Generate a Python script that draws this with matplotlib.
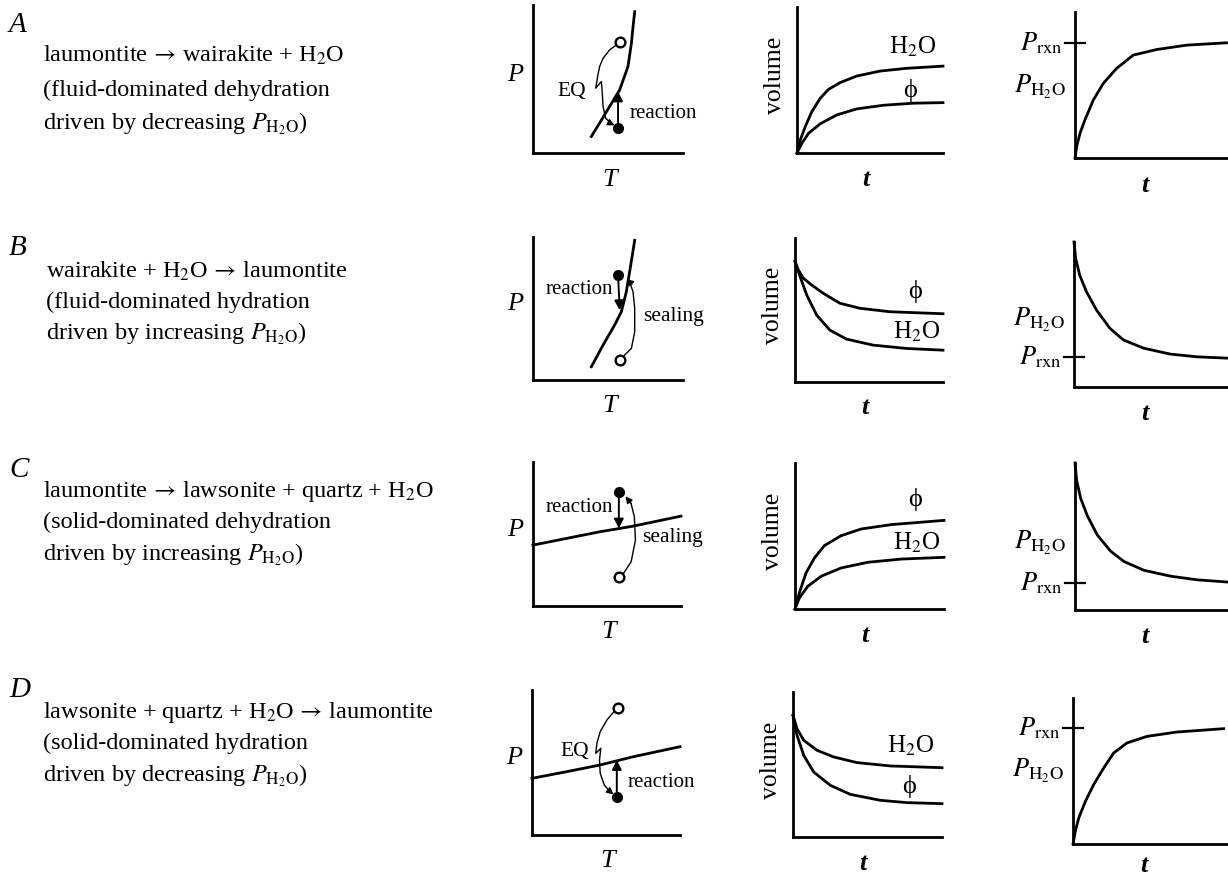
import matplotlib.pyplot as plt

plt.rcParams['font.family'] = ['Liberation Serif', 'DejaVu Serif']
plt.rcParams['mathtext.fontset'] = 'stix'

W, H = 1228, 875  # figure size in pixels

# ---------------- left-hand text ----------------
panel_letters = ['A', 'B', 'C', 'D']
letter_baselines = [32, 255, 477, 697]
text_baselines = [[62, 96, 129], [278, 308, 339], [497, 528, 560], [718, 749, 781]]
text_left = [43, 46, 43, 43]
reaction_lines = [
    [r'laumontite $\!\rightarrow\!$ wairakite + H$_2$O',
     '(fluid-dominated dehydration',
     r'driven by decreasing $P_{\mathrm{H_2O}}$)'],
    [r'wairakite + H$_2$O $\!\rightarrow\!$ laumontite',
     '(fluid-dominated hydration',
     r'driven by increasing $P_{\mathrm{H_2O}}$)'],
    [r'laumontite $\!\rightarrow\!$ lawsonite + quartz + H$_2$O',
     '(solid-dominated dehydration',
     r'driven by increasing $P_{\mathrm{H_2O}}$)'],
    [r'lawsonite + quartz + H$_2$O $\!\rightarrow\!$ laumontite',
     '(solid-dominated hydration',
     r'driven by decreasing $P_{\mathrm{H_2O}}$)'],
]

# ---------------- P-T diagrams (axes fractions) ----------------
pt_boundary = [
    [(0.389, 0.112), (0.444, 0.202), (0.511, 0.315), (0.578, 0.427), (0.633, 0.584),
     (0.656, 0.742), (0.667, 0.854), (0.678, 0.955)],
    [(0.389, 0.093), (0.467, 0.244), (0.544, 0.384), (0.589, 0.477), (0.622, 0.616),
     (0.644, 0.756), (0.662, 0.872), (0.678, 0.977)],
    [(0.0, 0.423), (0.225, 0.469), (0.449, 0.515), (0.674, 0.554), (1.0, 0.624)],
    [(0.0, 0.391), (0.236, 0.437), (0.461, 0.483), (0.685, 0.540), (1.0, 0.609)],
]
filled_pt = [(0.567, 0.169), (0.567, 0.737), (0.580, 0.792), (0.573, 0.264)]
open_pt = [(0.578, 0.753), (0.578, 0.140), (0.584, 0.203), (0.578, 0.874)]
reaction_end = [(0.567, 0.416), (0.578, 0.488), (0.580, 0.538), (0.573, 0.517)]
reaction_label_xy = [(0.87, 0.27), (0.31, 0.635), (0.315, 0.684), (0.876, 0.363)]
path_label = ['EQ', 'sealing', 'sealing', 'EQ']
path_label_xy = [(0.256, 0.416), (0.935, 0.442), (0.944, 0.476), (0.292, 0.579)]
path_pts = [
    [(0.556, 0.730), (0.511, 0.697), (0.467, 0.640), (0.444, 0.584), (0.433, 0.528),
     (0.418, 0.438), (0.456, 0.483), (0.462, 0.404), (0.467, 0.315), (0.484, 0.236),
     (0.522, 0.198), (0.544, 0.187)],
    [(0.600, 0.163), (0.656, 0.221), (0.678, 0.337), (0.678, 0.500), (0.667, 0.616),
     (0.644, 0.686), (0.622, 0.705)],
    [(0.611, 0.226), (0.663, 0.307), (0.692, 0.457), (0.685, 0.619), (0.663, 0.711),
     (0.625, 0.762)],
    [(0.557, 0.855), (0.506, 0.793), (0.461, 0.713), (0.438, 0.632), (0.431, 0.563),
     (0.465, 0.598), (0.456, 0.517), (0.461, 0.425), (0.488, 0.345), (0.528, 0.299),
     (0.551, 0.280)],
]

# ---------------- volume vs time ----------------
vol_h2o = [
    [(0, 0), (0.023, 0.091), (0.057, 0.182), (0.102, 0.284), (0.159, 0.375), (0.216, 0.436),
     (0.295, 0.482), (0.409, 0.527), (0.568, 0.561), (0.75, 0.58), (1, 0.595)],
    [(0, 0.837), (0.034, 0.733), (0.079, 0.605), (0.146, 0.465), (0.236, 0.36), (0.348, 0.298),
     (0.528, 0.256), (0.753, 0.233), (1, 0.221)],
    [(0, 0), (0.029, 0.075), (0.085, 0.155), (0.175, 0.224), (0.309, 0.281), (0.489, 0.32),
     (0.713, 0.342), (1, 0.354)],
    [(0, 0.839), (0.027, 0.747), (0.072, 0.667), (0.161, 0.598), (0.273, 0.552), (0.43, 0.513),
     (0.653, 0.49), (1, 0.478)],
]
vol_phi = [
    [(0, 0), (0.034, 0.068), (0.08, 0.136), (0.159, 0.2), (0.273, 0.261), (0.409, 0.302),
     (0.591, 0.327), (0.795, 0.341), (1, 0.345)],
    [(0, 0.837), (0.022, 0.779), (0.056, 0.721), (0.112, 0.674), (0.191, 0.616), (0.303, 0.547),
     (0.438, 0.512), (0.64, 0.488), (1, 0.474)],
    [(0, 0), (0.029, 0.11), (0.074, 0.247), (0.13, 0.349), (0.197, 0.434), (0.309, 0.502),
     (0.444, 0.548), (0.646, 0.578), (1, 0.607)],
    [(0, 0.839), (0.027, 0.701), (0.072, 0.563), (0.139, 0.448), (0.251, 0.356), (0.385, 0.294),
     (0.586, 0.253), (0.765, 0.237), (1, 0.23)],
]
h2o_label_xy = [(0.795, 0.727), (0.82, 0.349), (0.814, 0.452), (0.788, 0.632)]
phi_label_xy = [(0.773, 0.43), (0.809, 0.628), (0.807, 0.749), (0.776, 0.345)]

# ---------------- fluid pressure vs time ----------------
p_h2o = [
    [(0, 0), (0.011, 0.08), (0.033, 0.17), (0.065, 0.261), (0.12, 0.398), (0.185, 0.511),
     (0.272, 0.614), (0.381, 0.705), (0.534, 0.743), (0.73, 0.773), (0.99, 0.789)],
    [(0, 1.0), (0.011, 0.886), (0.037, 0.771), (0.081, 0.657), (0.146, 0.531), (0.233, 0.405),
     (0.32, 0.325), (0.451, 0.268), (0.625, 0.227), (0.8, 0.208), (0.996, 0.199)],
    [(0, 1.0), (0.011, 0.88), (0.037, 0.76), (0.081, 0.64), (0.146, 0.51), (0.233, 0.40),
     (0.32, 0.33), (0.451, 0.27), (0.625, 0.23), (0.8, 0.205), (1, 0.19)],
    [(0, 0), (0.015, 0.087), (0.037, 0.178), (0.08, 0.292), (0.133, 0.406), (0.198, 0.521),
     (0.262, 0.623), (0.348, 0.692), (0.477, 0.737), (0.67, 0.767), (0.972, 0.79)],
]
p_rxn_level = [0.789, 0.204, 0.184, 0.795]
p_h2o_label_y = [0.489, 0.462, 0.456, 0.498]
t_label_y = [-0.185, -0.185, -0.18, -0.15]

# axes boxes in pixels: (left, top, bottom, width)
pt_boxes = [(533, 5, 153, 150), (533, 237, 380, 150), (533, 462, 606, 148), (532, 690, 835, 148)]
vol_boxes = [(797, 7, 153, 146), (795, 238, 382, 148), (795, 463, 609, 149), (793, 692, 837, 149)]
p_boxes = [(1075, 12, 158), (1074, 242, 387), (1075, 463, 610), (1073, 698, 844)]


def make_axes(fig, left, top, bottom, width):
    ax = fig.add_axes([left / W, 1 - bottom / H, width / W, (bottom - top) / H])
    ax.set_xlim(0, 1)
    ax.set_ylim(0, 1)
    for s in ['top', 'right']:
        ax.spines[s].set_visible(False)
    for s in ['left', 'bottom']:
        ax.spines[s].set_linewidth(2.0)
    ax.set_xticks([])
    ax.set_yticks([])
    ax.patch.set_alpha(0)
    return ax


def xy(pts):
    return [p[0] for p in pts], [p[1] for p in pts]


fig = plt.figure(figsize=(W / 100, H / 100), dpi=100)

for i in range(4):
    # left text
    fig.text(9 / W, 1 - letter_baselines[i] / H, panel_letters[i], fontsize=21,
             style='italic', va='baseline', ha='left')
    for line, yb in zip(reaction_lines[i], text_baselines[i]):
        fig.text(text_left[i] / W, 1 - yb / H, line, fontsize=17.5, va='baseline', ha='left')

    # P-T diagram
    l, t, b, w = pt_boxes[i]
    ax = make_axes(fig, l, t, b, w)
    bx, by = xy(pt_boundary[i])
    ax.plot(bx, by, color='k', lw=2.0, clip_on=False)
    ax.annotate('', xy=reaction_end[i], xytext=filled_pt[i],
                arrowprops=dict(arrowstyle='-|>', color='k', lw=1.4, mutation_scale=14,
                                shrinkA=0, shrinkB=0))
    px, py = xy(path_pts[i])
    ax.plot(px[:-1], py[:-1], color='k', lw=1.0)
    ax.annotate('', xy=path_pts[i][-1], xytext=path_pts[i][-2],
                arrowprops=dict(arrowstyle='-|>', color='k', lw=1.0, mutation_scale=10,
                                shrinkA=0, shrinkB=0))
    ax.plot(*filled_pt[i], 'o', color='k', ms=7, zorder=5)
    ax.plot(*open_pt[i], 'o', mfc='white', mec='k', mew=1.7, ms=7, zorder=5)
    ax.text(*reaction_label_xy[i], 'reaction', fontsize=15, ha='center', va='center')
    ax.text(*path_label_xy[i], path_label[i], fontsize=15.5, ha='center', va='center')
    ax.text(-0.12, 0.53, 'P', fontsize=19, style='italic', ha='center', va='center',
            transform=ax.transAxes)
    ax.text(0.51, -0.18, 'T', fontsize=19, style='italic', ha='center', va='center',
            transform=ax.transAxes)

    # volume diagram
    l, t, b, w = vol_boxes[i]
    ax = make_axes(fig, l, t, b, w)
    hx, hy = xy(vol_h2o[i])
    fx, fy = xy(vol_phi[i])
    ax.plot(hx, hy, color='k', lw=2.0, clip_on=False)
    ax.plot(fx, fy, color='k', lw=2.0, clip_on=False)
    ax.text(*h2o_label_xy[i], r'H$_2$O', fontsize=18, ha='center', va='center')
    ax.text(*phi_label_xy[i], '\u03d5', fontsize=19, ha='center', va='center')
    ax.text(-0.15, 0.53, 'volume', fontsize=18.5, rotation=90, ha='center', va='center',
            transform=ax.transAxes)
    ax.text(0.47, -0.18, 't', fontsize=19, style='italic', weight='bold', ha='center',
            va='center', transform=ax.transAxes)

    # pressure diagram
    l, t, b = p_boxes[i]
    ax = make_axes(fig, l, t, b, W - l)
    cx, cy = xy(p_h2o[i])
    ax.plot(cx, cy, color='k', lw=2.0, clip_on=False)
    ax.plot([-0.065, 0.065], [p_rxn_level[i]] * 2, color='k', lw=1.6, clip_on=False)
    ax.text(-0.08, p_rxn_level[i], r'$P_{\mathrm{rxn}}$', fontsize=19, ha='right',
            va='center', transform=ax.transAxes)
    ax.text(-0.06, p_h2o_label_y[i], r'$P_{\mathrm{H_2O}}$', fontsize=19, ha='right',
            va='center', transform=ax.transAxes)
    ax.text(0.46, t_label_y[i], 't', fontsize=19, style='italic', weight='bold',
            ha='center', va='center', transform=ax.transAxes)

fig.savefig('out.png', dpi=100)
